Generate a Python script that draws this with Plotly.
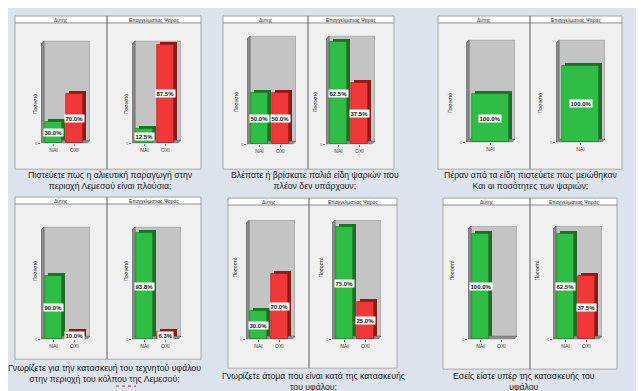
import plotly.graph_objects as go

W, H = 644, 391

# ---------------- data ----------------
categories = ['ΝΑΙ', 'ΟΧΙ']
group_titles = ['Δύτης', 'Επαγγελματίας Ψαράς']
n_divers = 10
n_fishers = 16

questions = [
    'Πιστεύετε πως η αλιευτική παραγωγή στην<br>περιοχή Λεμεσού είναι πλούσια;',
    'Βλέπατε ή βρίσκατε παλιά είδη ψαριών που<br>πλέον δεν υπάρχουν;',
    'Πέραν από τα είδη πιστεύετε πως μειώθηκαν<br>Και οι ποσότητες των ψαριών;',
    'Γνωρίζετε για την κατασκευή του τεχνητού υφάλου<br>στην περιοχή του κόλπου της Λεμεσού;',
    'Γνωρίζετε άτομα που είναι κατά της κατασκευής<br>του υφάλου;',
    'Εσείς είστε υπέρ της κατασκευής του<br>υφάλου',
]
diver_pct = [[30.0, 70.0], [50.0, 50.0], [100.0], [90.0, 10.0], [30.0, 70.0], [100.0, 0.0]]
fisher_pct = [[12.5, 87.5], [62.5, 37.5], [100.0], [93.8, 6.3], [75.0, 25.0], [62.5, 37.5]]

# ---------------- layout (pixels) ----------------
panels = [
    dict(box=(7, 193, 8, 162), div=99, walls=(33, 124), floor=136, top=33, ymax=14.5, cap=(102, 173)),
    dict(box=(215, 386, 8, 162), div=300, walls=(239, 318), floor=137, top=28, ymax=10.6, cap=(307, 173)),
    dict(box=(430, 614, 8, 162), div=522, walls=(458, 548), floor=135, top=32, ymax=21.3, cap=(522, 173)),
    dict(box=(7, 193, 190, 353), div=99, walls=(33, 124), floor=333, top=220, ymax=15.9, cap=(96, 367)),
    dict(box=(220, 389, 191, 362), div=301, walls=(238, 324), floor=333, top=213, ymax=12.8, cap=(305, 375)),
    dict(box=(435, 609, 191, 363), div=522, walls=(460, 545), floor=333, top=219, ymax=10.75, cap=(516, 375)),
]
WALL_W = 49
DEPTH = 3

BG = '#dce3ec'
GREEN, GREEN_D = '#2fbd45', '#16731f'
RED, RED_D = '#f03838', '#9a1414'
cols = [(GREEN, GREEN_D), (RED, RED_D)]


def X(px):
    return px / W


def Y(py):
    return 1 - py / H


fig = go.Figure()
shapes = []
annotations = []
layout_axes = {}

# white strips at the bottom edge (next items of the page)
for sx0, sx1 in [(0, 188), (210, 390)]:
    shapes.append(dict(type='rect', xref='paper', yref='paper', x0=X(sx0), x1=X(sx1), y0=0, y1=Y(387.5),
                       fillcolor='#ffffff', line=dict(width=0), layer='below'))

ax = 0
for p, q, dp, fp in zip(panels, questions, diver_pct, fisher_pct):
    x0, x1, y0, y1 = p['box']
    shapes.append(dict(type='rect', xref='paper', yref='paper', x0=X(x0), x1=X(x1), y0=Y(y1), y1=Y(y0),
                       fillcolor='#f0f0f0', line=dict(color='#a8a8a8', width=1), layer='below'))
    shapes.append(dict(type='rect', xref='paper', yref='paper', x0=X(x0 + 1), x1=X(x1 - 1), y0=Y(y0 + 7), y1=Y(y0 + 1),
                       fillcolor='#ffffff', line=dict(width=0), layer='below'))
    shapes.append(dict(type='line', xref='paper', yref='paper', x0=X(x0), x1=X(x1), y0=Y(y0 + 7), y1=Y(y0 + 7),
                       line=dict(color='#8c8c8c', width=1), layer='below'))
    shapes.append(dict(type='line', xref='paper', yref='paper', x0=X(p['div']), x1=X(p['div']), y0=Y(y1), y1=Y(y0),
                       line=dict(color='#5a5a5a', width=1), layer='below'))
    for gi, gt in enumerate(group_titles):
        cx = (x0 + p['div']) / 2 if gi == 0 else (p['div'] + x1) / 2
        annotations.append(dict(text=gt, xref='paper', yref='paper', x=X(cx), y=Y(y0 + 4), showarrow=False,
                                font=dict(size=5, color='#222', family='Liberation Sans'), xanchor='center', yanchor='middle'))
    annotations.append(dict(text=q, xref='paper', yref='paper', x=X(p['cap'][0]), y=Y(p['cap'][1]), showarrow=False,
                            font=dict(size=8.7, color='#1e1e1e', family='Liberation Sans'), xanchor='center',
                            yanchor='middle', align='center'))

    for gi, (pcts, n) in enumerate([(dp, n_divers), (fp, n_fishers)]):
        ax += 1
        xa = 'xaxis' if ax == 1 else f'xaxis{ax}'
        ya = 'yaxis' if ax == 1 else f'yaxis{ax}'
        xr = 'x' if ax == 1 else f'x{ax}'
        yr = 'y' if ax == 1 else f'y{ax}'
        ncat = len(pcts)
        if ncat == 1:
            rng = [-0.68, 0.68]
            bw = 1.0
        else:
            rng = [-0.6, 1.75]
            bw = 0.82
        wl = p['walls'][gi]
        pxu_x = WALL_W / (rng[1] - rng[0])
        pxu_y = (p['floor'] - p['top']) / p['ymax']
        dx = DEPTH / pxu_x
        dy = DEPTH / pxu_y
        ymax = p['ymax']
        layout_axes[xa] = dict(domain=[X(wl), X(wl + WALL_W)], range=rng, anchor=yr,
                               tickvals=list(range(ncat)), ticktext=categories[:ncat],
                               tickfont=dict(size=5, color='#333', family='Liberation Sans'),
                               ticks='outside', ticklen=2, tickcolor='#777', showgrid=False,
                               zeroline=False, showline=False, fixedrange=True)
        layout_axes[ya] = dict(domain=[Y(p['floor']), Y(p['top'])], range=[0, ymax], anchor=xr,
                               tickvals=[0], ticktext=['0'], tickfont=dict(size=4, color='#555'),
                               ticks='outside', ticklen=2, tickcolor='#777', showgrid=False,
                               zeroline=False, showline=False, fixedrange=True)
        a, b = rng
        shapes.append(dict(type='rect', xref=xr, yref=yr, x0=a + dx, x1=b, y0=dy, y1=ymax,
                           fillcolor='#c4c4c4', line=dict(color='#7a7a7a', width=0.6), layer='below'))
        shapes.append(dict(type='path', xref=xr, yref=yr,
                           path=f'M{a},0 L{a + dx},{dy} L{a + dx},{ymax} L{a},{ymax - dy} Z',
                           fillcolor='#8a8a8a', line=dict(color='#6a6a6a', width=0.6), layer='below'))
        shapes.append(dict(type='path', xref=xr, yref=yr,
                           path=f'M{a},0 L{b - dx},0 L{b},{dy} L{a + dx},{dy} Z',
                           fillcolor='#8c8c8c', line=dict(color='#6a6a6a', width=0.6), layer='below'))
        annotations.append(dict(text='Ποσοστό', xref='paper', yref='paper', x=X(wl - 11),
                                y=Y((p['floor'] + p['top']) / 2), textangle=-90, showarrow=False,
                                font=dict(size=5, color='#222', family='Liberation Sans')))
        xs, counts, cfront, cdark, labels = [], [], [], [], []
        for j, pc in enumerate(pcts):
            c = round(pc * n / 100)
            if c <= 0:
                continue
            xs.append(j)
            counts.append(c)
            cfront.append(cols[j][0])
            cdark.append(cols[j][1])
            labels.append(f'{pc:.1f}%')
        fig.add_trace(go.Bar(x=xs, y=counts, base=[dy] * len(xs), width=bw, offset=-bw / 2 + dx,
                             marker=dict(color=cdark, line=dict(width=0)), xaxis=xr, yaxis=yr,
                             showlegend=False, hoverinfo='skip'))
        fig.add_trace(go.Bar(x=xs, y=counts, width=bw, offset=-bw / 2,
                             marker=dict(color=cfront, line=dict(color=cdark, width=0.6)), xaxis=xr, yaxis=yr,
                             showlegend=False, hoverinfo='skip'))
        for xv, cv, lab in zip(xs, counts, labels):
            annotations.append(dict(text=f'<b>{lab}</b>', xref=xr, yref=yr, x=xv, y=cv / 2, showarrow=False,
                                    bgcolor='#ffffff', borderpad=0.5,
                                    font=dict(size=6, color='#111', family='Liberation Sans')))

# spell-check underline under "κόλπου"
shapes.append(dict(type='line', xref='paper', yref='paper', x0=X(108), x1=X(128), y0=Y(380), y1=Y(380),
                   line=dict(color='#e02020', width=1, dash='dot')))

fig.update_layout(width=W, height=H, margin=dict(l=0, r=0, t=0, b=0), paper_bgcolor=BG,
                  plot_bgcolor='rgba(0,0,0,0)', barmode='overlay', bargap=0, showlegend=False,
                  shapes=shapes, annotations=annotations, **layout_axes)
fig.write_html('out.html')
